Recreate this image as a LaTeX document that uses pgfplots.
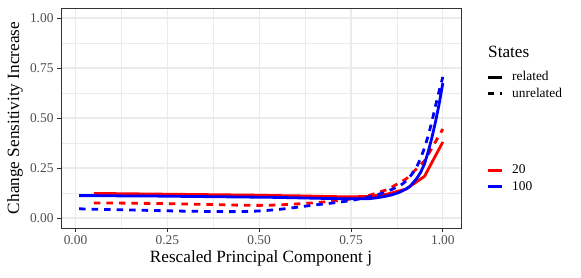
\documentclass[border=0pt]{standalone}
\usepackage{fontspec}
\setmainfont{Liberation Serif}
\usepackage{pgfplots}
\pgfplotsset{compat=1.18}
\usepackage{pgfplotstable}
\definecolor{gridgray}{HTML}{EBEBEB}
\definecolor{frame}{HTML}{333333}
\definecolor{ticktext}{HTML}{4D4D4D}
\definecolor{myred}{HTML}{FF0000}
\definecolor{myblue}{HTML}{0000FF}

\pgfplotstableread{
x y
0.05 0.123
0.10 0.122
0.15 0.121
0.20 0.120
0.25 0.119
0.30 0.118
0.35 0.117
0.40 0.116
0.45 0.115
0.50 0.114
0.55 0.112
0.60 0.111
0.65 0.109
0.70 0.107
0.75 0.106
0.80 0.108
0.85 0.120
0.90 0.145
0.95 0.208
1.00 0.380
}\redrel
\pgfplotstableread{
x y
0.05 0.075
0.10 0.075
0.15 0.074
0.20 0.073
0.25 0.072
0.30 0.070
0.35 0.068
0.40 0.066
0.45 0.064
0.50 0.063
0.55 0.065
0.60 0.070
0.65 0.076
0.70 0.084
0.75 0.095
0.80 0.113
0.85 0.143
0.90 0.195
0.95 0.285
1.00 0.445
}\redunrel
\pgfplotstableread{
x y
0.01 0.112
0.05 0.112
0.10 0.111
0.15 0.110
0.20 0.110
0.25 0.109
0.30 0.108
0.35 0.107
0.40 0.106
0.45 0.105
0.50 0.104
0.55 0.103
0.60 0.101
0.65 0.099
0.70 0.097
0.75 0.096
0.78 0.096
0.80 0.097
0.82 0.101
0.84 0.107
0.86 0.115
0.88 0.127
0.90 0.145
0.91 0.157
0.92 0.178
0.93 0.200
0.94 0.230
0.95 0.270
0.96 0.330
0.97 0.400
0.98 0.480
0.99 0.570
1.00 0.675
}\bluerel
\pgfplotstableread{
x y
0.01 0.046
0.05 0.044
0.10 0.042
0.15 0.040
0.20 0.038
0.25 0.036
0.30 0.034
0.35 0.033
0.40 0.032
0.45 0.032
0.50 0.035
0.55 0.042
0.60 0.053
0.65 0.065
0.70 0.075
0.75 0.087
0.80 0.106
0.82 0.115
0.84 0.128
0.86 0.142
0.88 0.158
0.89 0.170
0.90 0.185
0.91 0.205
0.92 0.230
0.93 0.260
0.94 0.300
0.95 0.350
0.96 0.410
0.97 0.480
0.98 0.560
0.99 0.635
1.00 0.705
}\blueunrel

\begin{document}
\begin{tikzpicture}
\useasboundingbox (-61pt,-49pt) rectangle (520pt,228pt);
\pgfplotsset{
  common/.style={
    scale only axis, width=400pt, height=220pt,
    at={(0pt,0pt)}, anchor=south west,
    xmin=-0.0395, xmax=1.0495, ymin=-0.05, ymax=1.05,
  },
  legend image code/.code={\draw[#1,line width=3pt,line cap=butt] (0pt,0pt) -- (14pt,0pt);},
  mylegend/.style={draw=none, fill=none,
    font=\fontsize{13.4}{16}\selectfont, row sep=0pt, column sep=7pt, inner sep=0pt,
    nodes={inner sep=2pt, text height=9.5pt, text depth=3pt}},
}
\begin{axis}[common,
  clip=false,
  axis line style={draw=frame, line width=0.8pt},
  xtick={0,0.25,0.5,0.75,1}, ytick={0,0.25,0.5,0.75,1},
  minor xtick={0.125,0.375,0.625,0.875}, minor ytick={0.125,0.375,0.625,0.875},
  grid=both,
  major grid style={draw=gridgray, line width=1.3pt},
  minor grid style={draw=gridgray, line width=0.7pt},
  tick align=outside, tick pos=left,
  major tick length=4pt, minor tick length=0pt,
  tick style={draw=frame, line width=0.8pt},
  xticklabel style={font=\fontsize{13.4}{16}\selectfont, text=ticktext},
  yticklabel style={font=\fontsize{13.4}{16}\selectfont, text=ticktext},
  /pgf/number format/.cd, fixed, fixed zerofill, precision=2, assume math mode=true,
  /pgfplots/.cd,
  xlabel={Rescaled Principal Component j},
  ylabel={Change Sensitivity Increase},
  xlabel style={font=\fontsize{17.2}{20}\selectfont, at={(axis description cs:0.5,-0.136)}, anchor=center},
  ylabel style={font=\fontsize{17.2}{20}\selectfont, at={(axis description cs:-0.115,0.5)}, anchor=center},
  legend style={mylegend, at={(axis description cs:1.0625,0.723)}, anchor=north west},
  legend cell align=left,
]
\addplot[myred, line width=2.8pt, line cap=butt, forget plot] table[x=x,y=y] {\redrel};
\addplot[myred, line width=2.8pt, line cap=butt, dash pattern=on 6.5pt off 6pt, forget plot] table[x=x,y=y] {\redunrel};
\addplot[myblue, line width=2.8pt, line cap=butt, forget plot] table[x=x,y=y] {\bluerel};
\addplot[myblue, line width=2.8pt, line cap=butt, dash pattern=on 6.5pt off 6pt, forget plot] table[x=x,y=y] {\blueunrel};
\addlegendimage{black}
\addlegendentry{related}
\addlegendimage{black, dash pattern=on 6.5pt off 6pt}
\addlegendentry{unrelated}
\node[anchor=west, font=\fontsize{17.2}{20}\selectfont, inner sep=0pt] at (axis description cs:1.0675,0.8) {States};
\end{axis}
\begin{axis}[common, hide axis,
  legend style={mylegend, at={(axis description cs:1.0625,0.30)}, anchor=north west},
  legend cell align=left,
]
\addlegendimage{myred}
\addlegendentry{20}
\addlegendimage{myblue}
\addlegendentry{100}
\end{axis}
\end{tikzpicture}
\end{document}
